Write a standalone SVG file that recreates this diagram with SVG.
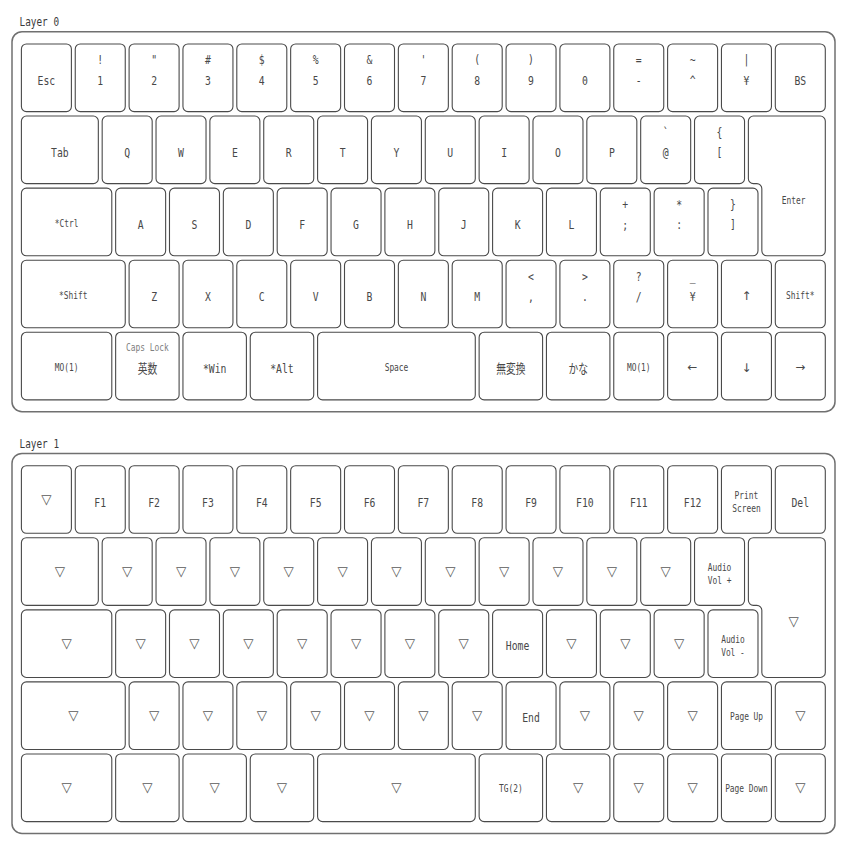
<svg xmlns="http://www.w3.org/2000/svg" width="848" height="848" viewBox="0 0 848 848">
<style>
.bg{fill:#fff}
.fr{fill:#fff;stroke:#707070;stroke-width:1.5}
.k{fill:#fff;stroke:#4a4a4a;stroke-width:1.1}
text{font-family:"DejaVu Sans Mono","Noto Sans CJK JP",monospace;fill:#484848;text-anchor:middle;transform-box:fill-box;transform-origin:center;transform:scaleX(.75)}
.m{font-size:13px}
.s{font-size:10.5px}
.c{font-size:10.5px;fill:#808080}
.h{font-size:12.5px;fill:#3a3a3a}
.v{font-family:"DejaVu Sans",sans-serif;font-size:13.5px;fill:#5a5a5a;transform:scaleX(.99)}
.a{font-family:"DejaVu Sans",sans-serif;font-size:12px;transform:scaleX(.99)}
</style>
<rect class="bg" x="0" y="0" width="848" height="848"/>

<g id="layer0">
<text class="h" x="39.3" y="26.5">Layer 0</text>
<rect class="fr" x="12" y="31.7" width="823" height="380" rx="10"/>
<!-- row 0 -->
<g id="l0-esc"><rect class="k" x="21.4" y="44" width="50" height="67.6" rx="5"/><text class="m" x="46.4" y="85">Esc</text></g>
<g id="l0-1"><rect class="k" x="75.25" y="44" width="50" height="67.6" rx="5"/><text class="m" x="100.25" y="64.5">!</text><text class="m" x="100.25" y="85">1</text></g>
<g id="l0-2"><rect class="k" x="129.1" y="44" width="50" height="67.6" rx="5"/><text class="m" x="154.1" y="64.5">"</text><text class="m" x="154.1" y="85">2</text></g>
<g id="l0-3"><rect class="k" x="182.95" y="44" width="50" height="67.6" rx="5"/><text class="m" x="207.95" y="64.5">#</text><text class="m" x="207.95" y="85">3</text></g>
<g id="l0-4"><rect class="k" x="236.8" y="44" width="50" height="67.6" rx="5"/><text class="m" x="261.8" y="64.5">$</text><text class="m" x="261.8" y="85">4</text></g>
<g id="l0-5"><rect class="k" x="290.65" y="44" width="50" height="67.6" rx="5"/><text class="m" x="315.65" y="64.5">%</text><text class="m" x="315.65" y="85">5</text></g>
<g id="l0-6"><rect class="k" x="344.5" y="44" width="50" height="67.6" rx="5"/><text class="m" x="369.5" y="64.5">&amp;</text><text class="m" x="369.5" y="85">6</text></g>
<g id="l0-7"><rect class="k" x="398.35" y="44" width="50" height="67.6" rx="5"/><text class="m" x="423.35" y="64.5">'</text><text class="m" x="423.35" y="85">7</text></g>
<g id="l0-8"><rect class="k" x="452.2" y="44" width="50" height="67.6" rx="5"/><text class="m" x="477.2" y="64.5">(</text><text class="m" x="477.2" y="85">8</text></g>
<g id="l0-9"><rect class="k" x="506.05" y="44" width="50" height="67.6" rx="5"/><text class="m" x="531.05" y="64.5">)</text><text class="m" x="531.05" y="85">9</text></g>
<g id="l0-0"><rect class="k" x="559.9" y="44" width="50" height="67.6" rx="5"/><text class="m" x="584.9" y="85">0</text></g>
<g id="l0-minus"><rect class="k" x="613.75" y="44" width="50" height="67.6" rx="5"/><text class="m" x="638.75" y="64.5">=</text><text class="m" x="638.75" y="85">-</text></g>
<g id="l0-caret"><rect class="k" x="667.6" y="44" width="50" height="67.6" rx="5"/><text class="m" x="692.6" y="64.5">~</text><text class="m" x="692.6" y="85">^</text></g>
<g id="l0-yen"><rect class="k" x="721.45" y="44" width="50" height="67.6" rx="5"/><text class="m" x="746.45" y="64.5">|</text><text class="m" x="746.45" y="85">¥</text></g>
<g id="l0-bs"><rect class="k" x="775.3" y="44" width="50" height="67.6" rx="5"/><text class="m" x="800.3" y="85">BS</text></g>
<!-- row 1 -->
<g id="l0-tab"><rect class="k" x="21.4" y="116.07" width="76.93" height="67.6" rx="5"/><text class="m" x="59.87" y="157.1">Tab</text></g>
<g id="l0-q"><rect class="k" x="102.18" y="116.07" width="50" height="67.6" rx="5"/><text class="m" x="127.18" y="157.1">Q</text></g>
<g id="l0-w"><rect class="k" x="156.03" y="116.07" width="50" height="67.6" rx="5"/><text class="m" x="181.03" y="157.1">W</text></g>
<g id="l0-e"><rect class="k" x="209.88" y="116.07" width="50" height="67.6" rx="5"/><text class="m" x="234.88" y="157.1">E</text></g>
<g id="l0-r"><rect class="k" x="263.73" y="116.07" width="50" height="67.6" rx="5"/><text class="m" x="288.73" y="157.1">R</text></g>
<g id="l0-t"><rect class="k" x="317.58" y="116.07" width="50" height="67.6" rx="5"/><text class="m" x="342.58" y="157.1">T</text></g>
<g id="l0-y"><rect class="k" x="371.43" y="116.07" width="50" height="67.6" rx="5"/><text class="m" x="396.43" y="157.1">Y</text></g>
<g id="l0-u"><rect class="k" x="425.28" y="116.07" width="50" height="67.6" rx="5"/><text class="m" x="450.28" y="157.1">U</text></g>
<g id="l0-i"><rect class="k" x="479.13" y="116.07" width="50" height="67.6" rx="5"/><text class="m" x="504.13" y="157.1">I</text></g>
<g id="l0-o"><rect class="k" x="532.98" y="116.07" width="50" height="67.6" rx="5"/><text class="m" x="557.98" y="157.1">O</text></g>
<g id="l0-p"><rect class="k" x="586.83" y="116.07" width="50" height="67.6" rx="5"/><text class="m" x="611.83" y="157.1">P</text></g>
<g id="l0-at"><rect class="k" x="640.68" y="116.07" width="50" height="67.6" rx="5"/><text class="m" x="665.68" y="136.6">`</text><text class="m" x="665.68" y="157.1">@</text></g>
<g id="l0-lbr"><rect class="k" x="694.53" y="116.07" width="50" height="67.6" rx="5"/><text class="m" x="719.53" y="136.6">{</text><text class="m" x="719.53" y="157.1">[</text></g>
<g id="l0-enter"><path class="k" d="M753.38 116.07H820.3A5 5 0 0 1 825.3 121.07V250.74A5 5 0 0 1 820.3 255.74H766.84A5 5 0 0 1 761.84 250.74V188.67A5 5 0 0 0 756.84 183.67H753.38A5 5 0 0 1 748.38 178.67V121.07A5 5 0 0 1 753.38 116.07Z"/><text class="s" x="793.57" y="204">Enter</text></g>
<!-- row 2 -->
<g id="l0-ctrl"><rect class="k" x="21.4" y="188.14" width="90.39" height="67.6" rx="5"/><text class="s" x="66.6" y="226.6">*Ctrl</text></g>
<g id="l0-a"><rect class="k" x="115.64" y="188.14" width="50" height="67.6" rx="5"/><text class="m" x="140.64" y="229.1">A</text></g>
<g id="l0-s"><rect class="k" x="169.49" y="188.14" width="50" height="67.6" rx="5"/><text class="m" x="194.49" y="229.1">S</text></g>
<g id="l0-d"><rect class="k" x="223.34" y="188.14" width="50" height="67.6" rx="5"/><text class="m" x="248.34" y="229.1">D</text></g>
<g id="l0-f"><rect class="k" x="277.19" y="188.14" width="50" height="67.6" rx="5"/><text class="m" x="302.19" y="229.1">F</text></g>
<g id="l0-g"><rect class="k" x="331.04" y="188.14" width="50" height="67.6" rx="5"/><text class="m" x="356.04" y="229.1">G</text></g>
<g id="l0-h"><rect class="k" x="384.89" y="188.14" width="50" height="67.6" rx="5"/><text class="m" x="409.89" y="229.1">H</text></g>
<g id="l0-j"><rect class="k" x="438.74" y="188.14" width="50" height="67.6" rx="5"/><text class="m" x="463.74" y="229.1">J</text></g>
<g id="l0-k"><rect class="k" x="492.59" y="188.14" width="50" height="67.6" rx="5"/><text class="m" x="517.59" y="229.1">K</text></g>
<g id="l0-l"><rect class="k" x="546.44" y="188.14" width="50" height="67.6" rx="5"/><text class="m" x="571.44" y="229.1">L</text></g>
<g id="l0-semi"><rect class="k" x="600.29" y="188.14" width="50" height="67.6" rx="5"/><text class="m" x="625.29" y="208.6">+</text><text class="m" x="625.29" y="229.1">;</text></g>
<g id="l0-colon"><rect class="k" x="654.14" y="188.14" width="50" height="67.6" rx="5"/><text class="m" x="679.14" y="208.6">*</text><text class="m" x="679.14" y="229.1">:</text></g>
<g id="l0-rbr"><rect class="k" x="707.99" y="188.14" width="50" height="67.6" rx="5"/><text class="m" x="732.99" y="208.6">}</text><text class="m" x="732.99" y="229.1">]</text></g>
<!-- row 3 -->
<g id="l0-lshift"><rect class="k" x="21.4" y="260.21" width="103.85" height="67.6" rx="5"/><text class="s" x="73.33" y="298.7">*Shift</text></g>
<g id="l0-z"><rect class="k" x="129.1" y="260.21" width="50" height="67.6" rx="5"/><text class="m" x="154.1" y="301.2">Z</text></g>
<g id="l0-x"><rect class="k" x="182.95" y="260.21" width="50" height="67.6" rx="5"/><text class="m" x="207.95" y="301.2">X</text></g>
<g id="l0-c"><rect class="k" x="236.8" y="260.21" width="50" height="67.6" rx="5"/><text class="m" x="261.8" y="301.2">C</text></g>
<g id="l0-v"><rect class="k" x="290.65" y="260.21" width="50" height="67.6" rx="5"/><text class="m" x="315.65" y="301.2">V</text></g>
<g id="l0-b"><rect class="k" x="344.5" y="260.21" width="50" height="67.6" rx="5"/><text class="m" x="369.5" y="301.2">B</text></g>
<g id="l0-n"><rect class="k" x="398.35" y="260.21" width="50" height="67.6" rx="5"/><text class="m" x="423.35" y="301.2">N</text></g>
<g id="l0-m"><rect class="k" x="452.2" y="260.21" width="50" height="67.6" rx="5"/><text class="m" x="477.2" y="301.2">M</text></g>
<g id="l0-comma"><rect class="k" x="506.05" y="260.21" width="50" height="67.6" rx="5"/><text class="m" x="531.05" y="280.7">&lt;</text><text class="m" x="531.05" y="301.2">,</text></g>
<g id="l0-period"><rect class="k" x="559.9" y="260.21" width="50" height="67.6" rx="5"/><text class="m" x="584.9" y="280.7">&gt;</text><text class="m" x="584.9" y="301.2">.</text></g>
<g id="l0-slash"><rect class="k" x="613.75" y="260.21" width="50" height="67.6" rx="5"/><text class="m" x="638.75" y="280.7">?</text><text class="m" x="638.75" y="301.2">/</text></g>
<g id="l0-yen2"><rect class="k" x="667.6" y="260.21" width="50" height="67.6" rx="5"/><text class="m" x="692.6" y="280.7">_</text><text class="m" x="692.6" y="301.2">¥</text></g>
<g id="l0-up"><rect class="k" x="721.45" y="260.21" width="50" height="67.6" rx="5"/><text class="a" x="746.45" y="300.5">↑</text></g>
<g id="l0-rshift"><rect class="k" x="775.3" y="260.21" width="50" height="67.6" rx="5"/><text class="s" x="800.3" y="298.7">Shift*</text></g>
<!-- row 4 -->
<g id="l0-mo1a"><rect class="k" x="21.4" y="332.28" width="90.39" height="67.6" rx="5"/><text class="s" x="66.6" y="370.8">MO(1)</text></g>
<g id="l0-eisu"><rect class="k" x="115.64" y="332.28" width="63.46" height="67.6" rx="5"/><text class="c" x="147.37" y="351.3">Caps Lock</text><text class="m" x="147.37" y="373">英数</text></g>
<g id="l0-win"><rect class="k" x="182.95" y="332.28" width="63.46" height="67.6" rx="5"/><text class="m" x="214.68" y="373">*Win</text></g>
<g id="l0-alt"><rect class="k" x="250.26" y="332.28" width="63.46" height="67.6" rx="5"/><text class="m" x="281.99" y="373">*Alt</text></g>
<g id="l0-space"><rect class="k" x="317.58" y="332.28" width="157.7" height="67.6" rx="5"/><text class="s" x="396.43" y="370.8">Space</text></g>
<g id="l0-muhenkan"><rect class="k" x="479.13" y="332.28" width="63.46" height="67.6" rx="5"/><text class="m" x="510.86" y="373">無変換</text></g>
<g id="l0-kana"><rect class="k" x="546.44" y="332.28" width="63.46" height="67.6" rx="5"/><text class="m" x="578.17" y="373">かな</text></g>
<g id="l0-mo1b"><rect class="k" x="613.75" y="332.28" width="50" height="67.6" rx="5"/><text class="s" x="638.75" y="370.8">MO(1)</text></g>
<g id="l0-left"><rect class="k" x="667.6" y="332.28" width="50" height="67.6" rx="5"/><text class="a" x="692.6" y="371">←</text></g>
<g id="l0-down"><rect class="k" x="721.45" y="332.28" width="50" height="67.6" rx="5"/><text class="a" x="746.45" y="372.5">↓</text></g>
<g id="l0-right"><rect class="k" x="775.3" y="332.28" width="50" height="67.6" rx="5"/><text class="a" x="800.3" y="371">→</text></g>
</g>

<g id="layer1">
<text class="h" x="39.3" y="448.2">Layer 1</text>
<rect class="fr" x="12" y="453.4" width="823" height="380" rx="10"/>
<!-- row 0 -->
<g id="l1-r0-0"><rect class="k" x="21.4" y="465.7" width="50" height="67.6" rx="5"/><text class="v" x="46.4" y="504">▽</text></g>
<g id="l1-f1"><rect class="k" x="75.25" y="465.7" width="50" height="67.6" rx="5"/><text class="m" x="100.25" y="506.7">F1</text></g>
<g id="l1-f2"><rect class="k" x="129.1" y="465.7" width="50" height="67.6" rx="5"/><text class="m" x="154.1" y="506.7">F2</text></g>
<g id="l1-f3"><rect class="k" x="182.95" y="465.7" width="50" height="67.6" rx="5"/><text class="m" x="207.95" y="506.7">F3</text></g>
<g id="l1-f4"><rect class="k" x="236.8" y="465.7" width="50" height="67.6" rx="5"/><text class="m" x="261.8" y="506.7">F4</text></g>
<g id="l1-f5"><rect class="k" x="290.65" y="465.7" width="50" height="67.6" rx="5"/><text class="m" x="315.65" y="506.7">F5</text></g>
<g id="l1-f6"><rect class="k" x="344.5" y="465.7" width="50" height="67.6" rx="5"/><text class="m" x="369.5" y="506.7">F6</text></g>
<g id="l1-f7"><rect class="k" x="398.35" y="465.7" width="50" height="67.6" rx="5"/><text class="m" x="423.35" y="506.7">F7</text></g>
<g id="l1-f8"><rect class="k" x="452.2" y="465.7" width="50" height="67.6" rx="5"/><text class="m" x="477.2" y="506.7">F8</text></g>
<g id="l1-f9"><rect class="k" x="506.05" y="465.7" width="50" height="67.6" rx="5"/><text class="m" x="531.05" y="506.7">F9</text></g>
<g id="l1-f10"><rect class="k" x="559.9" y="465.7" width="50" height="67.6" rx="5"/><text class="m" x="584.9" y="506.7">F10</text></g>
<g id="l1-f11"><rect class="k" x="613.75" y="465.7" width="50" height="67.6" rx="5"/><text class="m" x="638.75" y="506.7">F11</text></g>
<g id="l1-f12"><rect class="k" x="667.6" y="465.7" width="50" height="67.6" rx="5"/><text class="m" x="692.6" y="506.7">F12</text></g>
<g id="l1-prtsc"><rect class="k" x="721.45" y="465.7" width="50" height="67.6" rx="5"/><text class="s" x="746.45" y="499.2">Print</text><text class="s" x="746.45" y="512.2">Screen</text></g>
<g id="l1-del"><rect class="k" x="775.3" y="465.7" width="50" height="67.6" rx="5"/><text class="m" x="800.3" y="506.7">Del</text></g>
<!-- row 1 -->
<g id="l1-r1-0"><rect class="k" x="21.4" y="537.77" width="76.93" height="67.6" rx="5"/><text class="v" x="59.87" y="576.1">▽</text></g>
<g id="l1-r1-1"><rect class="k" x="102.18" y="537.77" width="50" height="67.6" rx="5"/><text class="v" x="127.18" y="576.1">▽</text></g>
<g id="l1-r1-2"><rect class="k" x="156.03" y="537.77" width="50" height="67.6" rx="5"/><text class="v" x="181.03" y="576.1">▽</text></g>
<g id="l1-r1-3"><rect class="k" x="209.88" y="537.77" width="50" height="67.6" rx="5"/><text class="v" x="234.88" y="576.1">▽</text></g>
<g id="l1-r1-4"><rect class="k" x="263.73" y="537.77" width="50" height="67.6" rx="5"/><text class="v" x="288.73" y="576.1">▽</text></g>
<g id="l1-r1-5"><rect class="k" x="317.58" y="537.77" width="50" height="67.6" rx="5"/><text class="v" x="342.58" y="576.1">▽</text></g>
<g id="l1-r1-6"><rect class="k" x="371.43" y="537.77" width="50" height="67.6" rx="5"/><text class="v" x="396.43" y="576.1">▽</text></g>
<g id="l1-r1-7"><rect class="k" x="425.28" y="537.77" width="50" height="67.6" rx="5"/><text class="v" x="450.28" y="576.1">▽</text></g>
<g id="l1-r1-8"><rect class="k" x="479.13" y="537.77" width="50" height="67.6" rx="5"/><text class="v" x="504.13" y="576.1">▽</text></g>
<g id="l1-r1-9"><rect class="k" x="532.98" y="537.77" width="50" height="67.6" rx="5"/><text class="v" x="557.98" y="576.1">▽</text></g>
<g id="l1-r1-10"><rect class="k" x="586.83" y="537.77" width="50" height="67.6" rx="5"/><text class="v" x="611.83" y="576.1">▽</text></g>
<g id="l1-r1-11"><rect class="k" x="640.68" y="537.77" width="50" height="67.6" rx="5"/><text class="v" x="665.68" y="576.1">▽</text></g>
<g id="l1-volup"><rect class="k" x="694.53" y="537.77" width="50" height="67.6" rx="5"/><text class="s" x="719.53" y="571.3">Audio</text><text class="s" x="719.53" y="584.3">Vol +</text></g>
<g id="l1-enter"><path class="k" d="M753.38 537.77H820.3A5 5 0 0 1 825.3 542.77V672.44A5 5 0 0 1 820.3 677.44H766.84A5 5 0 0 1 761.84 672.44V610.37A5 5 0 0 0 756.84 605.37H753.38A5 5 0 0 1 748.38 600.37V542.77A5 5 0 0 1 753.38 537.77Z"/><text class="v" x="793.57" y="626">▽</text></g>
<!-- row 2 -->
<g id="l1-r2-0"><rect class="k" x="21.4" y="609.84" width="90.39" height="67.6" rx="5"/><text class="v" x="66.6" y="648.2">▽</text></g>
<g id="l1-r2-1"><rect class="k" x="115.64" y="609.84" width="50" height="67.6" rx="5"/><text class="v" x="140.64" y="648.2">▽</text></g>
<g id="l1-r2-2"><rect class="k" x="169.49" y="609.84" width="50" height="67.6" rx="5"/><text class="v" x="194.49" y="648.2">▽</text></g>
<g id="l1-r2-3"><rect class="k" x="223.34" y="609.84" width="50" height="67.6" rx="5"/><text class="v" x="248.34" y="648.2">▽</text></g>
<g id="l1-r2-4"><rect class="k" x="277.19" y="609.84" width="50" height="67.6" rx="5"/><text class="v" x="302.19" y="648.2">▽</text></g>
<g id="l1-r2-5"><rect class="k" x="331.04" y="609.84" width="50" height="67.6" rx="5"/><text class="v" x="356.04" y="648.2">▽</text></g>
<g id="l1-r2-6"><rect class="k" x="384.89" y="609.84" width="50" height="67.6" rx="5"/><text class="v" x="409.89" y="648.2">▽</text></g>
<g id="l1-r2-7"><rect class="k" x="438.74" y="609.84" width="50" height="67.6" rx="5"/><text class="v" x="463.74" y="648.2">▽</text></g>
<g id="l1-home"><rect class="k" x="492.59" y="609.84" width="50" height="67.6" rx="5"/><text class="m" x="517.59" y="650.3">Home</text></g>
<g id="l1-r2-9"><rect class="k" x="546.44" y="609.84" width="50" height="67.6" rx="5"/><text class="v" x="571.44" y="648.2">▽</text></g>
<g id="l1-r2-10"><rect class="k" x="600.29" y="609.84" width="50" height="67.6" rx="5"/><text class="v" x="625.29" y="648.2">▽</text></g>
<g id="l1-r2-11"><rect class="k" x="654.14" y="609.84" width="50" height="67.6" rx="5"/><text class="v" x="679.14" y="648.2">▽</text></g>
<g id="l1-voldown"><rect class="k" x="707.99" y="609.84" width="50" height="67.6" rx="5"/><text class="s" x="732.99" y="643.3">Audio</text><text class="s" x="732.99" y="656.3">Vol -</text></g>
<!-- row 3 -->
<g id="l1-r3-0"><rect class="k" x="21.4" y="681.91" width="103.85" height="67.6" rx="5"/><text class="v" x="73.33" y="720.3">▽</text></g>
<g id="l1-r3-1"><rect class="k" x="129.1" y="681.91" width="50" height="67.6" rx="5"/><text class="v" x="154.1" y="720.3">▽</text></g>
<g id="l1-r3-2"><rect class="k" x="182.95" y="681.91" width="50" height="67.6" rx="5"/><text class="v" x="207.95" y="720.3">▽</text></g>
<g id="l1-r3-3"><rect class="k" x="236.8" y="681.91" width="50" height="67.6" rx="5"/><text class="v" x="261.8" y="720.3">▽</text></g>
<g id="l1-r3-4"><rect class="k" x="290.65" y="681.91" width="50" height="67.6" rx="5"/><text class="v" x="315.65" y="720.3">▽</text></g>
<g id="l1-r3-5"><rect class="k" x="344.5" y="681.91" width="50" height="67.6" rx="5"/><text class="v" x="369.5" y="720.3">▽</text></g>
<g id="l1-r3-6"><rect class="k" x="398.35" y="681.91" width="50" height="67.6" rx="5"/><text class="v" x="423.35" y="720.3">▽</text></g>
<g id="l1-r3-7"><rect class="k" x="452.2" y="681.91" width="50" height="67.6" rx="5"/><text class="v" x="477.2" y="720.3">▽</text></g>
<g id="l1-end"><rect class="k" x="506.05" y="681.91" width="50" height="67.6" rx="5"/><text class="m" x="531.05" y="722.4">End</text></g>
<g id="l1-r3-9"><rect class="k" x="559.9" y="681.91" width="50" height="67.6" rx="5"/><text class="v" x="584.9" y="720.3">▽</text></g>
<g id="l1-r3-10"><rect class="k" x="613.75" y="681.91" width="50" height="67.6" rx="5"/><text class="v" x="638.75" y="720.3">▽</text></g>
<g id="l1-r3-11"><rect class="k" x="667.6" y="681.91" width="50" height="67.6" rx="5"/><text class="v" x="692.6" y="720.3">▽</text></g>
<g id="l1-pgup"><rect class="k" x="721.45" y="681.91" width="50" height="67.6" rx="5"/><text class="s" x="746.45" y="720.4">Page Up</text></g>
<g id="l1-r3-13"><rect class="k" x="775.3" y="681.91" width="50" height="67.6" rx="5"/><text class="v" x="800.3" y="720.3">▽</text></g>
<!-- row 4 -->
<g id="l1-r4-0"><rect class="k" x="21.4" y="753.98" width="90.39" height="67.6" rx="5"/><text class="v" x="66.6" y="792.3">▽</text></g>
<g id="l1-r4-1"><rect class="k" x="115.64" y="753.98" width="63.46" height="67.6" rx="5"/><text class="v" x="147.37" y="792.3">▽</text></g>
<g id="l1-r4-2"><rect class="k" x="182.95" y="753.98" width="63.46" height="67.6" rx="5"/><text class="v" x="214.68" y="792.3">▽</text></g>
<g id="l1-r4-3"><rect class="k" x="250.26" y="753.98" width="63.46" height="67.6" rx="5"/><text class="v" x="281.99" y="792.3">▽</text></g>
<g id="l1-r4-4"><rect class="k" x="317.58" y="753.98" width="157.7" height="67.6" rx="5"/><text class="v" x="396.43" y="792.3">▽</text></g>
<g id="l1-tg2"><rect class="k" x="479.13" y="753.98" width="63.46" height="67.6" rx="5"/><text class="s" x="510.86" y="792.5">TG(2)</text></g>
<g id="l1-r4-6"><rect class="k" x="546.44" y="753.98" width="63.46" height="67.6" rx="5"/><text class="v" x="578.17" y="792.3">▽</text></g>
<g id="l1-r4-7"><rect class="k" x="613.75" y="753.98" width="50" height="67.6" rx="5"/><text class="v" x="638.75" y="792.3">▽</text></g>
<g id="l1-r4-8"><rect class="k" x="667.6" y="753.98" width="50" height="67.6" rx="5"/><text class="v" x="692.6" y="792.3">▽</text></g>
<g id="l1-pgdn"><rect class="k" x="721.45" y="753.98" width="50" height="67.6" rx="5"/><text class="s" x="746.45" y="792.5">Page Down</text></g>
<g id="l1-r4-10"><rect class="k" x="775.3" y="753.98" width="50" height="67.6" rx="5"/><text class="v" x="800.3" y="792.3">▽</text></g>
</g>
</svg>
